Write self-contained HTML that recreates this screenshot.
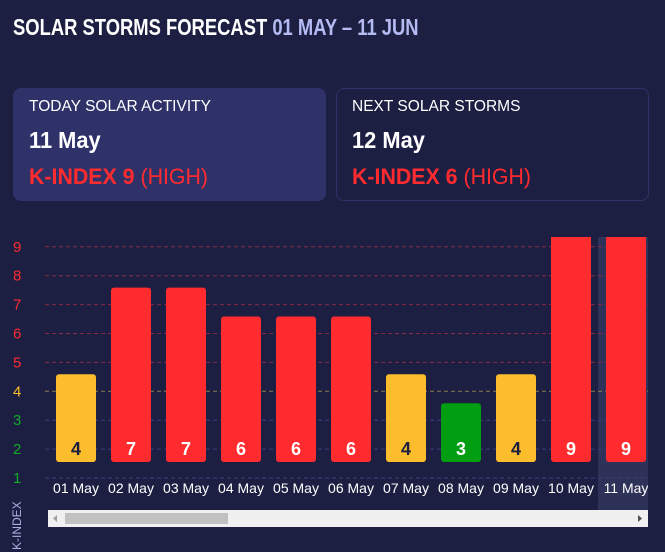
<!DOCTYPE html>
<html><head><meta charset="utf-8"><style>
body{margin:0;width:665px;height:552px;background:#1c1f42;font-family:"Liberation Sans",sans-serif;overflow:hidden;position:relative;color:#fff}
.t{position:absolute;white-space:nowrap;transform-origin:0 0}
.card{position:absolute;top:88px;height:113px;border-radius:8px;box-sizing:border-box}
</style></head><body>
<div class="t" style="left:13px;top:14px;font-size:23px;font-weight:bold;transform:scaleX(0.8)">SOLAR STORMS FORECAST <span style="color:#b4baf2">01 MAY – 11 JUN</span></div>
<div class="card" style="left:13px;width:313px;background:#2e3269">
<div class="t" style="left:16px;top:10px;font-size:16px;transform:scaleX(0.97)">TODAY SOLAR ACTIVITY</div>
<div class="t" style="left:16px;top:39px;font-size:23px;font-weight:bold;transform:scaleX(0.95)">11 May</div>
<div class="t" style="left:16px;top:76px;font-size:22px;color:#ff2b2e;transform:scaleX(0.97)"><b>K-INDEX 9</b> (HIGH)</div>
</div>
<div class="card" style="left:336px;width:313px;border:1px solid #2e3266">
<div class="t" style="left:15px;top:9px;font-size:16px;transform:scaleX(0.97)">NEXT SOLAR STORMS</div>
<div class="t" style="left:15px;top:38px;font-size:23px;font-weight:bold;transform:scaleX(0.95)">12 May</div>
<div class="t" style="left:15px;top:75px;font-size:22px;color:#ff2b2e;transform:scaleX(0.97)"><b>K-INDEX 6</b> (HIGH)</div>
</div>
<svg id="chart" width="665" height="552" style="position:absolute;left:0;top:0">
<defs><clipPath id="clip"><rect x="40" y="237" width="608" height="280"/></clipPath></defs>
<g id="grid" clip-path="url(#clip)"></g><g id="bars" clip-path="url(#clip)"></g><g id="lbl"></g>
<rect x="48" y="510" width="600" height="17" fill="#f0f0f0"/>
<rect x="65" y="513" width="163" height="11" fill="#c1c1c1"/>
<path d="M57 515 L53 518.5 L57 522Z" fill="#a0a0a0"/>
<path d="M638 515 L642 518.5 L638 522Z" fill="#505050"/>
<text transform="translate(21,550) rotate(-90)" font-size="12" fill="#aab0e0">K-INDEX</text>
</svg>
<script>
const categories=["01 May","02 May","03 May","04 May","05 May","06 May","07 May","08 May","09 May","10 May","11 May"];
const values=[4,7,7,6,6,6,4,3,4,9,9];
const ticks=[1,2,3,4,5,6,7,8,9];
const highlightIndex=10;
const NS="http://www.w3.org/2000/svg";
const y=v=>478-(v-1)*28.9;
const x=i=>56+i*55;
const col=v=>v>=5?"#ff2b2e":v===4?"#fbbd2c":"#009e10";
const tcol=v=>v>=5?"#ff2b2e":v===4?"#fbbd2c":"#14a82a";
const gcol=v=>v>=5?"#8a2a45":v===4?"#8a7a50":"#3a3f78";
function mk(t,a,p){const e=document.createElementNS(NS,t);for(const k in a)e.setAttribute(k,a[k]);p.appendChild(e);return e;}
const G=document.getElementById("grid"),B=document.getElementById("bars"),L=document.getElementById("lbl");
{const h=mk("rect",{x:x(highlightIndex)-8,y:237,width:56,height:273,fill:"#2e3258"},G);

}
ticks.forEach(t=>{
const l=mk("line",{x1:45,x2:648,y1:y(t),y2:y(t),stroke:gcol(t),"stroke-dasharray":"4 3","stroke-width":1},G);


const tx=mk("text",{x:13,y:y(t)+5,"font-size":15,fill:tcol(t),"text-anchor":"start"},L);
tx.textContent=t;


});
values.forEach((v,i)=>{
const top=y(v)-17,bot=462;
const r=mk("rect",{x:x(i),y:top,width:40,height:bot-top,rx:3,fill:col(v)},B);


const vt=mk("text",{x:x(i)+20,y:455,"font-size":18,"font-weight":"bold","text-anchor":"middle",fill:v===4?"#1c1f42":"#fff"},B);
vt.textContent=v;


const ct=mk("text",{x:x(i)+20,y:493,"font-size":14,"text-anchor":"middle",fill:"#fff"},B);
ct.textContent=categories[i];


});
</script>
</body></html>
